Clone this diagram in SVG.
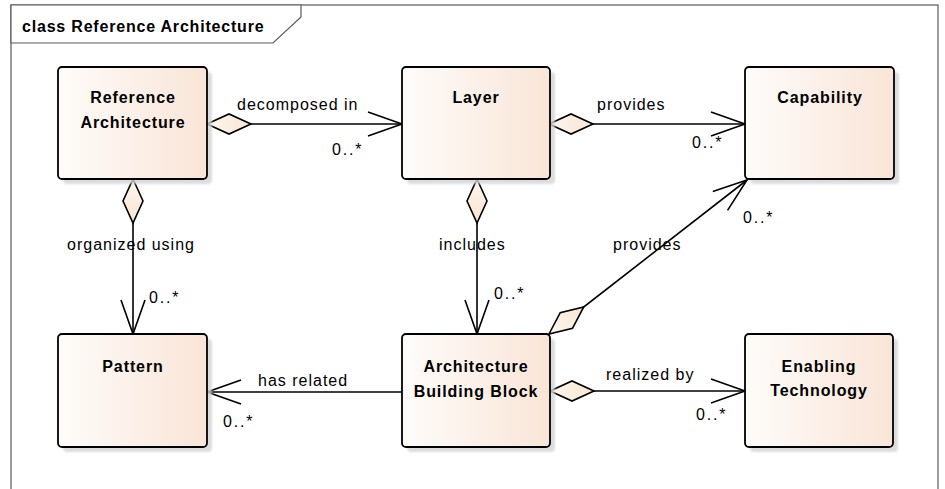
<svg xmlns="http://www.w3.org/2000/svg" width="945" height="489" viewBox="0 0 945 489">
  <style>
    .frame { fill: #ffffff; stroke: #5a5a5a; stroke-width: 1.2; }
    .tab { fill: #ffffff; stroke: #5a5a5a; stroke-width: 1.2; }
    .title { font-family: "Liberation Sans", Arial, sans-serif; font-size: 16px; font-weight: bold; letter-spacing: 0.8px; fill: #000; }
    .shadow { fill: #d4d4d4; opacity: 0.8; }
    .box { fill: url(#classFill); stroke: #000; stroke-width: 1.8; }
    .name { font-family: "Liberation Sans", Arial, sans-serif; font-size: 16px; font-weight: bold; letter-spacing: 0.9px; fill: #000; text-anchor: middle; }
    .edge { fill: none; stroke: #000; stroke-width: 1.6; }
    .agg { marker-start: url(#diamond); marker-end: url(#openArrow); }
    .assoc { marker-end: url(#openArrow); }
    .lbl { font-family: "Liberation Sans", Arial, sans-serif; font-size: 16px; letter-spacing: 1px; fill: #000; }
    .mult { font-family: "Liberation Sans", Arial, sans-serif; font-size: 16px; letter-spacing: 1.8px; fill: #000; }
  </style>
  <defs>
    <linearGradient id="classFill" x1="0" y1="0" x2="1" y2="0">
      <stop offset="0" stop-color="#fefcfa"/>
      <stop offset="1" stop-color="#f9e5d7"/>
    </linearGradient>
    <linearGradient id="diamondFill" x1="0" y1="0" x2="1" y2="0">
      <stop offset="0" stop-color="#fdf6ee"/>
      <stop offset="1" stop-color="#f8e6d3"/>
    </linearGradient>
    <filter id="soft" x="-10%" y="-10%" width="120%" height="120%">
      <feGaussianBlur stdDeviation="1"/>
    </filter>
    <!-- hollow aggregation diamond, drawn at the whole end of the association -->
    <marker id="diamond" markerUnits="userSpaceOnUse" orient="auto" refX="0" refY="0" markerWidth="50" markerHeight="30" overflow="visible">
      <path d="M0,0 L22,-10 L44,0 L22,10 Z" fill="url(#diamondFill)" stroke="#000" stroke-width="1.6" stroke-linejoin="miter"/>
    </marker>
    <!-- open navigability arrowhead -->
    <marker id="openArrow" markerUnits="userSpaceOnUse" orient="auto" refX="0" refY="0" markerWidth="40" markerHeight="30" overflow="visible">
      <path d="M-34,-12 L0,0 L-34,12" fill="none" stroke="#000" stroke-width="1.6" stroke-linejoin="miter"/>
    </marker>
  </defs>

  <!-- diagram frame with its name tab -->
  <rect class="frame" x="11" y="5" width="927" height="500"/>
  <path class="tab" d="M11,5 L301,5 L301,17 L273,43 L11,43 Z"/>
  <text class="title" x="22" y="32">class Reference Architecture</text>

  <!-- connectors -->
  <g id="connectors">
    <path class="edge agg" d="M207,124 L402,124"/>
    <path class="edge agg" d="M549,124 L745,124"/>
    <path class="edge agg" d="M133,179 L133,334"/>
    <path class="edge agg" d="M477,179 L477,334"/>
    <path class="edge agg" d="M549,334 L747,180"/>
    <path class="edge assoc" d="M402,392 L207,392"/>
    <path class="edge agg" d="M550,391 L745,391"/>

    <text class="lbl" x="237" y="110">decomposed in</text>
    <text class="mult" x="332" y="155">0..*</text>

    <text class="lbl" x="597" y="110">provides</text>
    <text class="mult" x="692" y="148">0..*</text>

    <text class="lbl" x="67" y="250">organized using</text>
    <text class="mult" x="149" y="303">0..*</text>

    <text class="lbl" x="439" y="250">includes</text>
    <text class="mult" x="494" y="299">0..*</text>

    <text class="lbl" x="613" y="250">provides</text>
    <text class="mult" x="743" y="223">0..*</text>

    <text class="lbl" x="258" y="386">has related</text>
    <text class="mult" x="223" y="427">0..*</text>

    <text class="lbl" x="606" y="380">realized by</text>
    <text class="mult" x="696" y="420">0..*</text>
  </g>

  <!-- classes -->
  <g id="reference-architecture">
    <rect class="shadow" x="63" y="72" width="149" height="112" rx="4" filter="url(#soft)"/>
    <rect class="box" x="58" y="67" width="149" height="112" rx="4"/>
    <text class="name" x="133" y="103">Reference</text>
    <text class="name" x="133" y="128">Architecture</text>
  </g>

  <g id="layer">
    <rect class="shadow" x="407" y="72" width="148" height="112" rx="4" filter="url(#soft)"/>
    <rect class="box" x="402" y="67" width="148" height="112" rx="4"/>
    <text class="name" x="476" y="103">Layer</text>
  </g>

  <g id="capability">
    <rect class="shadow" x="750" y="72" width="149" height="112" rx="4" filter="url(#soft)"/>
    <rect class="box" x="745" y="67" width="149" height="112" rx="4"/>
    <text class="name" x="820" y="103">Capability</text>
  </g>

  <g id="pattern">
    <rect class="shadow" x="63" y="339" width="149" height="113" rx="4" filter="url(#soft)"/>
    <rect class="box" x="58" y="334" width="149" height="113" rx="4"/>
    <text class="name" x="133" y="372">Pattern</text>
  </g>

  <g id="architecture-building-block">
    <rect class="shadow" x="407" y="339" width="148" height="113" rx="4" filter="url(#soft)"/>
    <rect class="box" x="402" y="334" width="148" height="113" rx="4"/>
    <text class="name" x="476" y="372">Architecture</text>
    <text class="name" x="476" y="397">Building Block</text>
  </g>

  <g id="enabling-technology">
    <rect class="shadow" x="750" y="339" width="148" height="113" rx="4" filter="url(#soft)"/>
    <rect class="box" x="745" y="334" width="148" height="113" rx="4"/>
    <text class="name" x="819" y="372">Enabling</text>
    <text class="name" x="819" y="396">Technology</text>
  </g>
</svg>
